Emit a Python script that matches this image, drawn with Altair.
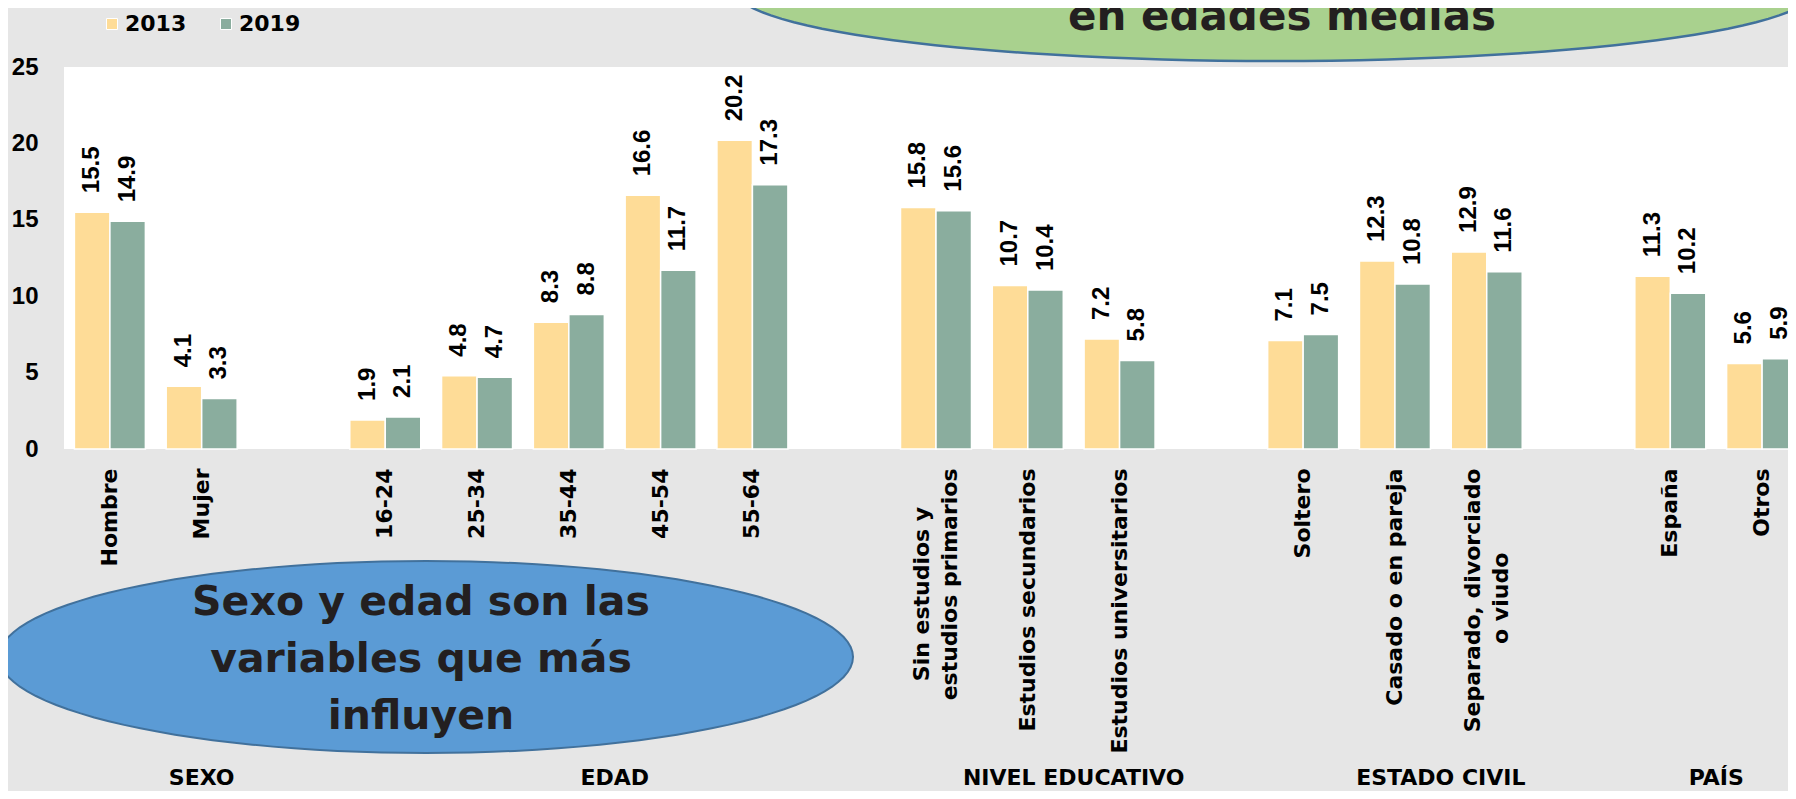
import json
import math
import altair as alt
import pandas as pd

# ---------------- data ----------------
groups = ["SEXO", "EDAD", "NIVEL EDUCATIVO", "ESTADO CIVIL", "PAÍS"]
group_categories = [
    ["Hombre", "Mujer"],
    ["16-24", "25-34", "35-44", "45-54", "55-64"],
    ["Sin estudios y\nestudios primarios", "Estudios secundarios", "Estudios universitarios"],
    ["Soltero", "Casado o en pareja", "Separado, divorciado\no viudo"],
    ["España", "Otros"],
]
years = ["2013", "2019"]
values_2013 = [15.5, 4.1, 1.9, 4.8, 8.3, 16.6, 20.2, 15.8, 10.7, 7.2, 7.1, 12.3, 12.9, 11.3, 5.6]
values_2019 = [14.9, 3.3, 2.1, 4.7, 8.8, 11.7, 17.3, 15.6, 10.4, 5.8, 7.5, 10.8, 11.6, 10.2, 5.9]
y_ticks = [0, 5, 10, 15, 20, 25]
note_green = "en edades medias"
note_blue = ["Sexo y edad son las", "variables que  más", "influyen"]

# ---------------- styling ----------------
YELLOW = "#FEDC97"
GREEN = "#8AAD9E"
BG = "#E6E6E6"
NBSP = "\u00a0"
ZWSP = "\u200b"   # keeps the padding from being trimmed

# slot domain: categories with one empty slot between groups
domain = []
group_rows = []
for gi, (g, cats) in enumerate(zip(groups, group_categories)):
    first = len(domain)
    domain.extend(cats)
    if gi < len(groups) - 1:
        domain.append(f"gap{gi + 1}")
    last = len(domain) - 1
    group_rows.append({"grupo": g, "pos": (first + last) / 2 + 0.5})

cats = [c for cl in group_categories for c in cl]
df = pd.DataFrame({
    "categoria": cats * 2,
    "anio": [years[0]] * len(cats) + [years[1]] * len(cats),
    "valor": values_2013 + values_2019,
})
gdf = pd.DataFrame(group_rows)

# multi-line labels, lines centred against each other
label_lines = {
    "Sin estudios y\nestudios primarios": ["Sin estudios y" + NBSP * 5 + ZWSP, "estudios primarios"],
    "Separado, divorciado\no viudo": ["Separado, divorciado", "o viudo" + NBSP * 11 + ZWSP],
}
expr = "".join(f"datum.value === {json.dumps(k)} ? {json.dumps(v)} : " for k, v in label_lines.items())
expr += "indexof(datum.value, 'gap') === 0 ? '' : datum.value"

RANGE = [0, 1744]
x_scale = alt.Scale(domain=domain, range=RANGE, paddingInner=0.2266, paddingOuter=0.1133)
xo_scale = alt.Scale(domain=years, paddingInner=0, paddingOuter=0)
y_scale = alt.Scale(domain=[0, 25], nice=False)

LH = 28
x_axis = alt.Axis(
    labelAngle=270, labelExpr=expr, labelFont="DejaVu Sans", labelFontWeight="bold",
    labelFontSize=22, labelColor="black", labelPadding=19, labelLimit=600,
    labelLineHeight=LH, labelOverlap=False, domain=False, ticks=False, tickSize=0, title=None,
    labelOffset={"condition": {"test": "indexof(datum.value, '\\n') >= 0", "value": -LH / 2}, "value": 0},
)
y_axis = alt.Axis(
    values=y_ticks, labelFont="Liberation Sans", labelFontWeight="bold", labelFontSize=24,
    labelColor="black", labelPadding=26, domain=False, ticks=False, tickSize=0, grid=False, title=None,
)
legend = alt.Legend(
    title=None, orient="none", legendX=37, legendY=-54, direction="horizontal",
    symbolType="square", symbolSize=121, symbolStrokeColor="white", symbolStrokeWidth=1,
    symbolOpacity=1, labelFont="DejaVu Sans", labelFontWeight="bold", labelFontSize=22,
    labelColor="black", columnPadding=28, labelOffset=2,
)

bars = alt.Chart(df).mark_bar(stroke="white", strokeWidth=1.5).encode(
    x=alt.X("categoria:N", sort=domain, scale=x_scale, axis=x_axis),
    xOffset=alt.XOffset("anio:N", scale=xo_scale),
    y=alt.Y("valor:Q", scale=y_scale, axis=y_axis),
    color=alt.Color("anio:N", scale=alt.Scale(domain=years, range=[YELLOW, GREEN]), legend=legend),
)
values = alt.Chart(df).mark_text(
    angle=270, align="left", baseline="middle", dx=19,
    font="Liberation Sans", fontWeight="bold", fontSize=24, color="black",
).encode(
    x=alt.X("categoria:N", sort=domain, scale=x_scale),
    xOffset=alt.XOffset("anio:N", scale=xo_scale),
    y=alt.Y("valor:Q", scale=y_scale),
    text=alt.Text("valor:Q", format=".1f"),
)
base = alt.layer(bars, values)

group_text = alt.Chart(gdf).mark_text(
    font="DejaVu Sans", fontWeight="bold", fontSize=22, color="black",
    align="center", baseline="middle",
).encode(
    x=alt.X("pos:Q", scale=alt.Scale(domain=[0, len(domain)], range=RANGE), axis=None),
    y=alt.value(711),
    text="grupo:N",
)


def ellipse_path(ratio, n=120):
    pts = []
    for i in range(n):
        t = 2 * math.pi * i / n
        pts.append(f"{math.cos(t):.4f},{ratio * math.sin(t):.4f}")
    return "M" + " L".join(pts) + " Z"


one = pd.DataFrame({"n": [0]})
green_ell = alt.Chart(one).mark_point(
    shape=ellipse_path(71 / 540), size=(2 * 540) ** 2, filled=True, fill="#A9D18E",
    stroke="#41719C", strokeWidth=2.5, opacity=1, fillOpacity=1, strokeOpacity=1,
).encode(x=alt.value(1211), y=alt.value(-77))
blue_ell = alt.Chart(one).mark_point(
    shape=ellipse_path(96 / 427), size=(2 * 427) ** 2, filled=True, fill="#5B9BD5",
    stroke="#41719C", strokeWidth=2, opacity=1, fillOpacity=1, strokeOpacity=1,
).encode(x=alt.value(362), y=alt.value(590))
green_txt = alt.Chart(one).mark_text(
    font="DejaVu Sans", fontWeight="bold", fontSize=42, color="#231F20",
    align="center", baseline="alphabetic",
).encode(x=alt.value(1218), y=alt.value(-37), text=alt.value(note_green))
blue_txt = alt.Chart(one).mark_text(
    font="DejaVu Sans", fontWeight="bold", fontSize=41, color="#231F20",
    align="center", baseline="alphabetic", lineHeight=57,
).encode(x=alt.value(357), y=alt.value(548), text=alt.value(note_blue))

chart = alt.layer(base, group_text, green_ell, blue_ell, green_txt, blue_txt).resolve_scale(
    x="independent"
).properties(
    width=1724, height=382,
    autosize=alt.AutoSizeParams(type="none"),
    padding={"left": 56, "top": 59, "right": 0, "bottom": 342},
    background=BG,
).configure_view(fill="white", strokeWidth=0)

chart.save("out.html", embed_options={"renderer": "svg", "actions": False})
